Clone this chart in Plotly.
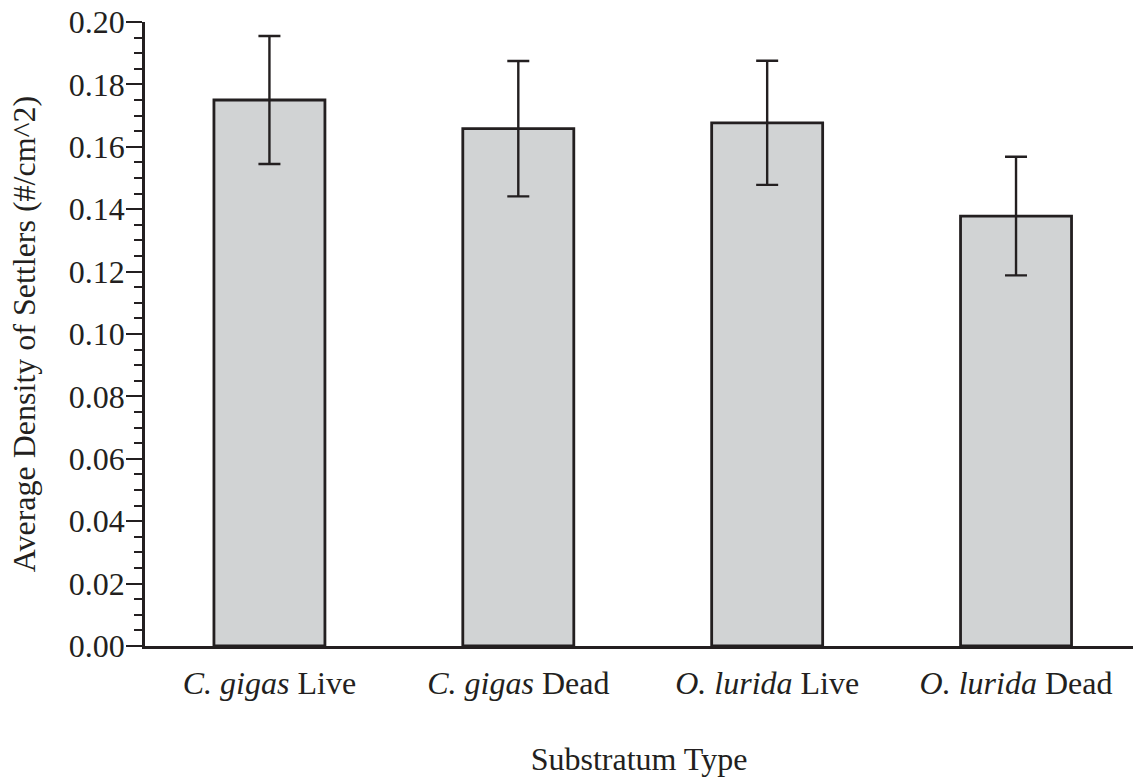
import plotly.graph_objects as go

categories = ["<i>C. gigas</i> Live", "<i>C. gigas</i> Dead",
              "<i>O. lurida</i> Live", "<i>O. lurida</i> Dead"]
means = [0.175, 0.1658, 0.1677, 0.1378]
errors = [0.0205, 0.0217, 0.0199, 0.0190]
y_tick_vals = [0.00, 0.02, 0.04, 0.06, 0.08, 0.10, 0.12, 0.14, 0.16, 0.18, 0.20]
y_tick_text = ["0.00", "0.02", "0.04", "0.06", "0.08", "0.10", "0.12", "0.14", "0.16", "0.18", "0.20"]

INK = "#231f20"
FONT = "Times New Roman, Liberation Serif, Times, serif"
FS = 32

fig = go.Figure()
fig.add_trace(go.Bar(
    x=list(range(len(categories))),
    y=means,
    width=0.446,
    marker=dict(color="#d1d3d4", line=dict(color=INK, width=2.8)),
    error_y=dict(type="data", array=errors, visible=True,
                 color=INK, thickness=2.4, width=11),
    showlegend=False,
))

fig.update_layout(
    width=1133, height=777,
    margin=dict(l=145, r=0, t=22, b=131),
    paper_bgcolor="white", plot_bgcolor="white",
    font=dict(family=FONT, size=FS, color=INK),
    xaxis=dict(
        range=[-0.5, 3.47],
        tickmode="array",
        tickvals=list(range(len(categories))),
        ticktext=categories,
        ticks="",
        showgrid=False, zeroline=False,
        showline=True, linecolor=INK, linewidth=2.5,
        ticklabelstandoff=7,
        tickfont=dict(family=FONT, size=FS, color=INK),
        title=dict(text="Substratum Type", standoff=48,
                   font=dict(family=FONT, size=FS, color=INK)),
    ),
    yaxis=dict(
        range=[0, 0.2],
        tickmode="array",
        tickvals=y_tick_vals,
        ticktext=y_tick_text,
        ticks="outside", ticklen=16, tickwidth=2, tickcolor=INK,
        minor=dict(dtick=0.005, ticks="outside", ticklen=8,
                   tickwidth=1.5, tickcolor=INK, showgrid=False),
        showgrid=False, zeroline=False,
        showline=True, linecolor=INK, linewidth=2.5,
        ticklabelstandoff=-5,
        tickfont=dict(family=FONT, size=FS, color=INK),
        title=dict(text="Average Density of Settlers (#/cm^2)", standoff=24,
                   font=dict(family=FONT, size=FS, color=INK)),
    ),
)

fig.write_html("out.html")
